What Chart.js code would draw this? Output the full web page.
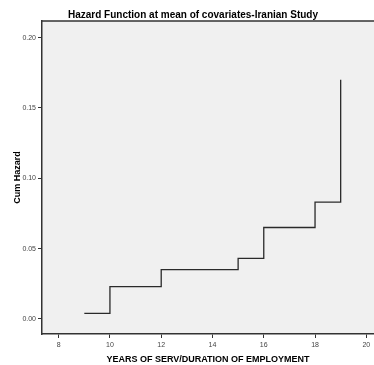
<!DOCTYPE html>
<html>
<head>
<meta charset="utf-8">
<script src="https://cdn.jsdelivr.net/npm/chart.js@4/dist/chart.umd.min.js"></script>
<style>
html,body{margin:0;padding:0;background:#fff;}
#wrap{width:374px;height:365px;}
</style>
</head>
<body>
<div id="wrap"><canvas id="c" width="374" height="365"></canvas></div>
<script>
const years = [9, 10, 12, 15, 16, 18, 19];
const cumHazard = [0.004, 0.023, 0.035, 0.043, 0.065, 0.083, 0.17];
const xTicks = [8, 10, 12, 14, 16, 18, 20];
const yTicks = [0.00, 0.05, 0.10, 0.15, 0.20];

const frame = {
  id: 'frame',
  beforeDraw(chart) {
    const {ctx, chartArea: a} = chart;
    ctx.save();
    ctx.fillStyle = '#f0f0f0';
    ctx.fillRect(a.left, a.top, a.right - a.left, a.bottom - a.top);
    ctx.strokeStyle = '#333';
    ctx.lineWidth = 1.5;
    ctx.beginPath();
    ctx.moveTo(a.left, a.top);
    ctx.lineTo(a.right, a.top);
    ctx.stroke();
    ctx.restore();
  }
};

new Chart(document.getElementById('c'), {
  type: 'scatter',
  data: {
    datasets: [{
      data: years.map((x, i) => ({x: x, y: cumHazard[i]})),
      showLine: true,
      stepped: 'before',
      borderColor: '#2a2a2a',
      borderWidth: 1.3,
      pointRadius: 0,
      fill: false
    }]
  },
  options: {
    responsive: false,
    animation: false,
    layout: {padding: {left: 12, right: 0, top: 0, bottom: 0}},
    plugins: {
      legend: {display: false},
      tooltip: {enabled: false},
      title: {
        display: true,
        text: 'Hazard Function at mean of covariates-Iranian Study',
        color: '#000',
        font: {family: 'Arial, "Liberation Sans", sans-serif', size: 10, weight: 'bold', lineHeight: 1.2},
        padding: {top: 9, bottom: 0}
      }
    },
    scales: {
      x: {
        type: 'linear',
        min: 7.35,
        max: 20.3,
        afterBuildTicks: s => { s.ticks = xTicks.map(v => ({value: v})); },
        afterFit: s => { s.height = 31; },
        ticks: {
          color: '#444',
          font: {family: 'Arial, "Liberation Sans", sans-serif', size: 7},
          padding: 3,
          maxRotation: 0,
          autoSkip: false,
          callback: v => String(v)
        },
        grid: {drawOnChartArea: false, drawTicks: true, tickLength: 4, color: '#333', tickWidth: 1},
        border: {display: true, color: '#333', width: 1.5},
        title: {
          display: true,
          text: 'YEARS OF SERV/DURATION OF EMPLOYMENT',
          color: '#000',
          font: {family: 'Arial, "Liberation Sans", sans-serif', size: 9, weight: 'bold', lineHeight: 1.2},
          padding: {top: 0, bottom: 0}
        }
      },
      y: {
        type: 'linear',
        min: -0.0107,
        max: 0.2118,
        afterBuildTicks: s => { s.ticks = yTicks.map(v => ({value: v})); },
        afterFit: s => { s.width = 30; },
        ticks: {
          color: '#444',
          font: {family: 'Arial, "Liberation Sans", sans-serif', size: 7},
          padding: 2,
          autoSkip: false,
          callback: v => Number(v).toFixed(2)
        },
        grid: {drawOnChartArea: false, drawTicks: true, tickLength: 4, color: '#333', tickWidth: 1},
        border: {display: true, color: '#333', width: 1.5},
        title: {
          display: true,
          text: 'Cum Hazard',
          color: '#000',
          font: {family: 'Arial, "Liberation Sans", sans-serif', size: 9, weight: 'bold', lineHeight: 1.2},
          padding: {top: 0, bottom: 0}
        }
      }
    }
  },
  plugins: [frame]
});
</script>
</body>
</html>
